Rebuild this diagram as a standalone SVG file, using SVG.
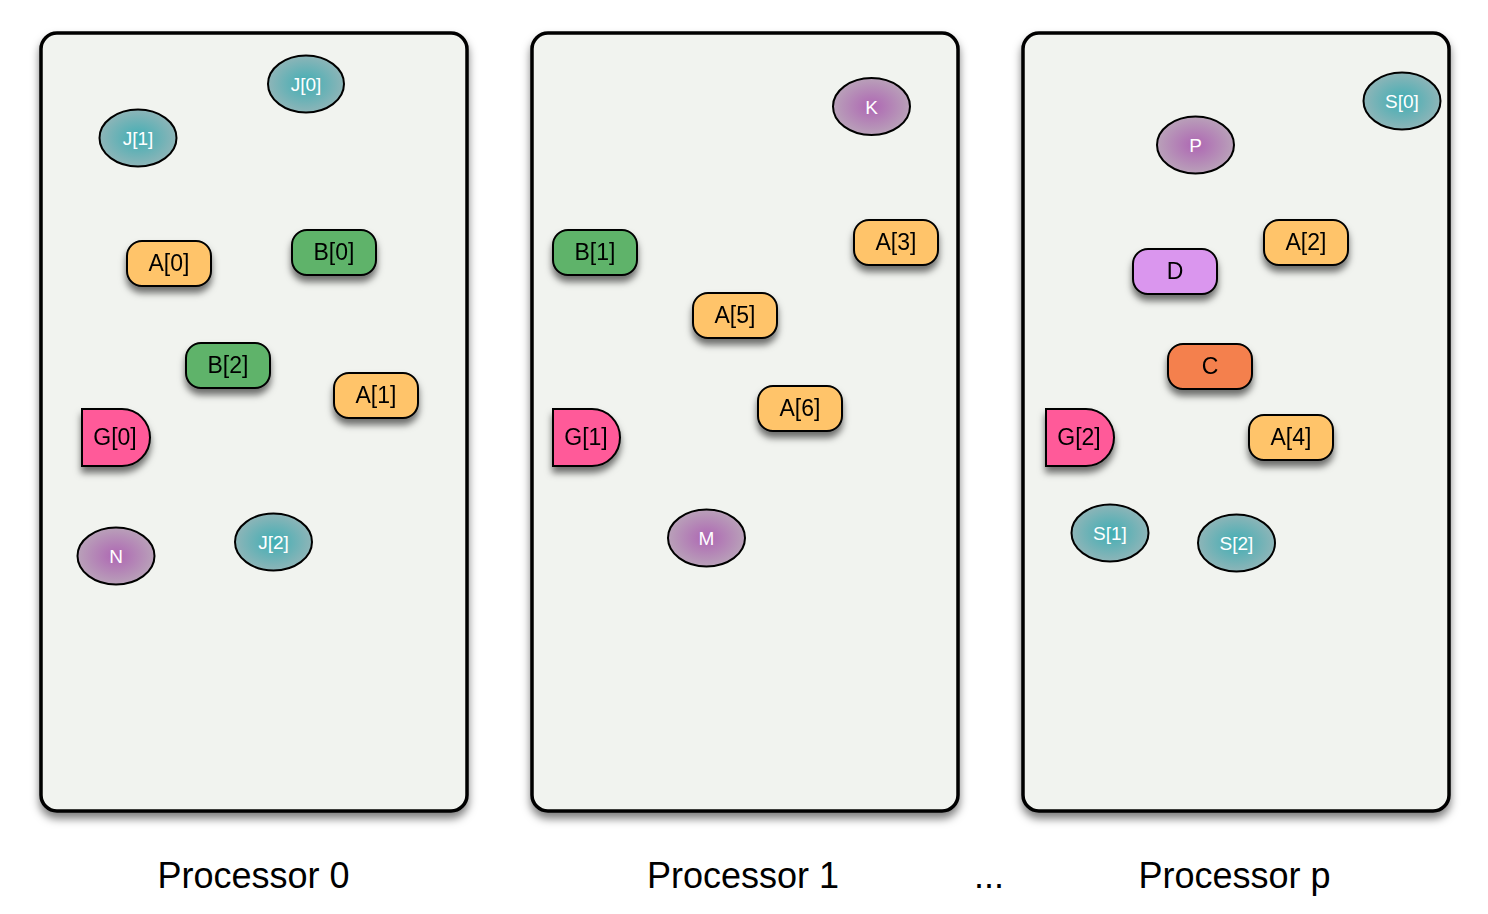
<svg xmlns="http://www.w3.org/2000/svg" width="1488" height="914" viewBox="0 0 1488 914">
<defs>
  <filter id="shadow" x="-30%" y="-30%" width="160%" height="180%">
    <feDropShadow dx="0" dy="6" stdDeviation="3.5" flood-color="#000" flood-opacity="0.55"/>
  </filter>
  <filter id="pshadow" x="-10%" y="-10%" width="120%" height="120%">
    <feDropShadow dx="0" dy="6" stdDeviation="4" flood-color="#000" flood-opacity="0.5"/>
  </filter>
  <radialGradient id="teal" cx="50%" cy="50%" r="50%">
    <stop offset="0" stop-color="#3FAEB4"/>
    <stop offset="1" stop-color="#8EB5B8"/>
  </radialGradient>
  <radialGradient id="purple" cx="50%" cy="50%" r="50%">
    <stop offset="0" stop-color="#AE66B3"/>
    <stop offset="1" stop-color="#B9A1B9"/>
  </radialGradient>
</defs>
<style>
  .panel { fill: #F1F3EF; stroke: #000; stroke-width: 3.5; filter: url(#pshadow); }
  .node { stroke: #000; stroke-width: 2; }
  .sh { filter: url(#shadow); }
  .orange { fill: #FFC46B; }
  .green { fill: #5EB36A; }
  .pink { fill: #FF5A99; }
  .violet { fill: #DA96EE; }
  .coral { fill: #F4804D; }
  .teal { fill: url(#teal); }
  .purple { fill: url(#purple); }
  .t { font-family: "Liberation Sans", Arial, sans-serif; font-size: 23px; fill: #000; text-anchor: middle; }
  .et { font-family: "Liberation Sans", Arial, sans-serif; font-size: 19px; fill: #fff; text-anchor: middle; }
  .lbl { font-family: "Liberation Sans", Arial, sans-serif; font-size: 36px; fill: #000; text-anchor: middle; }
</style>

<g id="panels">
  <rect id="processor0" class="panel" x="41" y="33" width="426" height="778" rx="16"/>
  <rect id="processor1" class="panel" x="532" y="33" width="426" height="778" rx="16"/>
  <rect id="processorp" class="panel" x="1023" y="33" width="426" height="778" rx="16"/>
</g>

<g id="connectors"></g>

<!-- Processor 0 -->
<g id="J0"><ellipse class="node teal" cx="306" cy="84" rx="38" ry="28.5"/><text class="et" x="306" y="91">J[0]</text></g>
<g id="J1"><ellipse class="node teal" cx="138" cy="138" rx="38.5" ry="28.5"/><text class="et" x="138" y="145">J[1]</text></g>
<g id="A0" class="sh"><rect class="node orange" x="127" y="241" width="84" height="45" rx="15"/><text class="t" x="169" y="271">A[0]</text></g>
<g id="B0" class="sh"><rect class="node green" x="292" y="230" width="84" height="45" rx="15"/><text class="t" x="334" y="260">B[0]</text></g>
<g id="B2" class="sh"><rect class="node green" x="186" y="343" width="84" height="45" rx="15"/><text class="t" x="228" y="373">B[2]</text></g>
<g id="A1" class="sh"><rect class="node orange" x="334" y="373" width="84" height="45" rx="15"/><text class="t" x="376" y="403">A[1]</text></g>
<g id="G0" class="sh"><path class="node pink" d="M82,409 H122 A28,28.5 0 0 1 150,437.5 A28,28.5 0 0 1 122,466 H82 Z"/><text class="t" x="115" y="445">G[0]</text></g>
<g id="N"><ellipse class="node purple" cx="116" cy="556" rx="38.5" ry="28.5"/><text class="et" x="116" y="563">N</text></g>
<g id="J2"><ellipse class="node teal" cx="273.5" cy="542" rx="38.5" ry="28.5"/><text class="et" x="273.5" y="549">J[2]</text></g>

<!-- Processor 1 -->
<g id="K"><ellipse class="node purple" cx="871.5" cy="106.5" rx="38.5" ry="28.5"/><text class="et" x="871.5" y="113.5">K</text></g>
<g id="B1" class="sh"><rect class="node green" x="553" y="230" width="84" height="45" rx="15"/><text class="t" x="595" y="260">B[1]</text></g>
<g id="A3" class="sh"><rect class="node orange" x="854" y="220" width="84" height="45" rx="15"/><text class="t" x="896" y="250">A[3]</text></g>
<g id="A5" class="sh"><rect class="node orange" x="693" y="293" width="84" height="45" rx="15"/><text class="t" x="735" y="323">A[5]</text></g>
<g id="A6" class="sh"><rect class="node orange" x="758" y="386" width="84" height="45" rx="15"/><text class="t" x="800" y="416">A[6]</text></g>
<g id="G1" class="sh"><path class="node pink" d="M553,409 H592 A28,28.5 0 0 1 620,437.5 A28,28.5 0 0 1 592,466 H553 Z"/><text class="t" x="586" y="445">G[1]</text></g>
<g id="M"><ellipse class="node purple" cx="706.5" cy="538" rx="38.5" ry="28.5"/><text class="et" x="706.5" y="545">M</text></g>

<!-- Processor p -->
<g id="S0"><ellipse class="node teal" cx="1402" cy="101" rx="38.5" ry="28.5"/><text class="et" x="1402" y="108">S[0]</text></g>
<g id="P"><ellipse class="node purple" cx="1195.5" cy="145" rx="38.5" ry="28.5"/><text class="et" x="1195.5" y="152">P</text></g>
<g id="A2" class="sh"><rect class="node orange" x="1264" y="220" width="84" height="45" rx="15"/><text class="t" x="1306" y="250">A[2]</text></g>
<g id="D" class="sh"><rect class="node violet" x="1133" y="249" width="84" height="45" rx="15"/><text class="t" x="1175" y="279">D</text></g>
<g id="C" class="sh"><rect class="node coral" x="1168" y="344" width="84" height="45" rx="15"/><text class="t" x="1210" y="374">C</text></g>
<g id="G2" class="sh"><path class="node pink" d="M1046,409 H1086 A28,28.5 0 0 1 1114,437.5 A28,28.5 0 0 1 1086,466 H1046 Z"/><text class="t" x="1079" y="445">G[2]</text></g>
<g id="A4" class="sh"><rect class="node orange" x="1249" y="415" width="84" height="45" rx="15"/><text class="t" x="1291" y="445">A[4]</text></g>
<g id="S1"><ellipse class="node teal" cx="1110" cy="533" rx="38.5" ry="28.5"/><text class="et" x="1110" y="540">S[1]</text></g>
<g id="S2"><ellipse class="node teal" cx="1236.5" cy="543" rx="38.5" ry="28.5"/><text class="et" x="1236.5" y="550">S[2]</text></g>

<g id="labels">
  <text class="lbl" x="253.5" y="888">Processor 0</text>
  <text class="lbl" x="743" y="888">Processor 1</text>
  <text class="lbl" x="989" y="888">...</text>
  <text class="lbl" x="1234.5" y="888">Processor p</text>
</g>
</svg>
